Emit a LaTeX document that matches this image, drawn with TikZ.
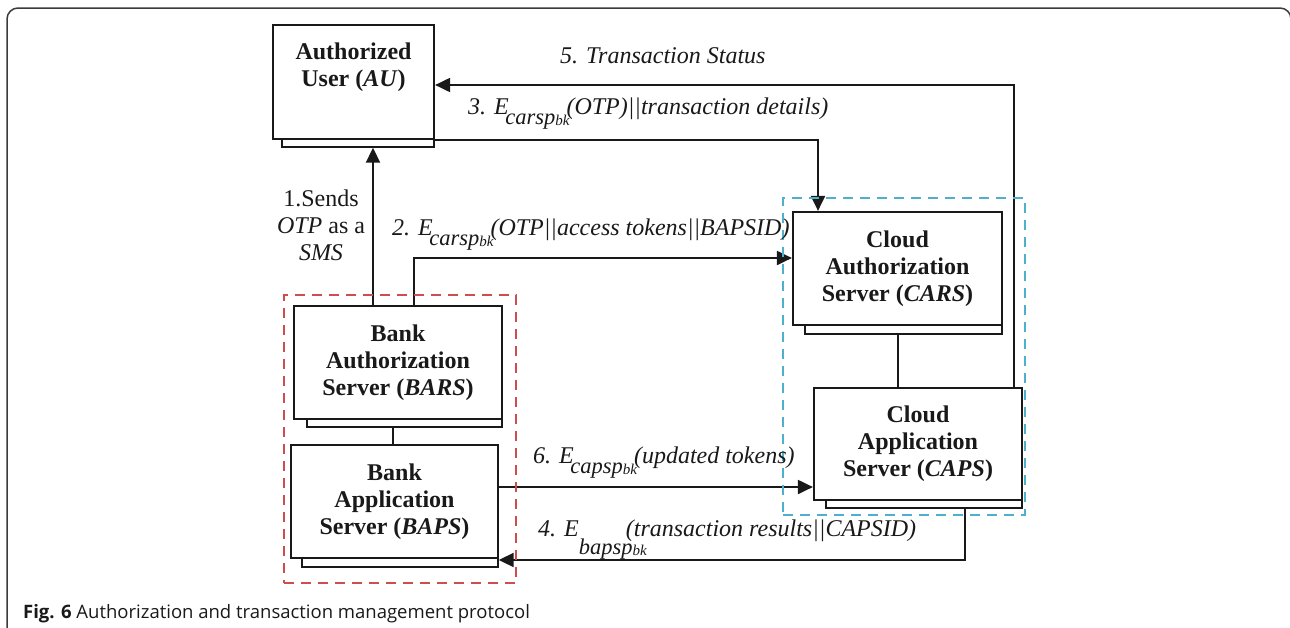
\documentclass[tikz,border=0pt]{standalone}
\usepackage{fontspec}
\setmainfont{Liberation Serif}
\newfontfamily\capfont{Open Sans}
\usetikzlibrary{arrows.meta,calc}
\definecolor{rdash}{RGB}{204,78,78}
\definecolor{cdash}{RGB}{78,176,204}
\definecolor{ink}{RGB}{25,25,25}
\newcommand\bksub{\fontsize{15}{15}\selectfont bk}
\newcommand\subsz{\fontsize{22.5}{24}\selectfont}
\newcommand\Esub[1]{E\kern-3.5pt\raisebox{-10pt}{\subsz #1\raisebox{-1pt}{\bksub}}\kern-3pt}
\newcommand\Esubdeep[1]{E\rlap{\raisebox{-18pt}{\subsz #1\raisebox{-1pt}{\bksub}}}\hspace{47pt}}
\begin{document}
\begin{tikzpicture}[x=1pt,y=-1pt,
  font=\fontsize{24}{27}\selectfont,
  box/.style={draw=ink, fill=white, line width=2.2pt, inner sep=0pt, align=center, text=ink, font=\fontsize{24}{27}\selectfont\bfseries},
  shbox/.style={draw=ink, fill=white, line width=1.4pt, inner sep=0pt},
  conn/.style={draw=ink, line width=2pt},
  arr/.style={conn, -{Triangle[length=15pt,width=14pt]}},
  lab/.style={anchor=base west, inner sep=0pt, text=ink, font=\fontsize{24}{27}\selectfont\itshape},
  grp/.style={line width=2.6pt, dash pattern=on 10pt off 7pt, inner sep=0pt},
]
\useasboundingbox (0,0) rectangle (1290,627);
% outer frame
\draw[ink!85, line width=1.5pt, rounded corners=11pt] (7,650) -- (7,8) -- (1291,8) -- (1291,650);

% shadows
\node[shbox, minimum width=152, minimum height=114] (AUsh) at (358,90) {};
\node[shbox, minimum width=195, minimum height=113] (BARSsh) at (404.5,370.5) {};
\node[shbox, minimum width=196, minimum height=113] (BAPSsh) at (400,510.5) {};
\node[shbox, minimum width=197, minimum height=113] (CARSsh) at (903.5,277.5) {};
\node[shbox, minimum width=196, minimum height=112] (CAPSsh) at (924,452) {};

% boxes
\node[box, minimum width=161, minimum height=114] (AU) at (353.5,82) {};
\node[inner sep=0pt, align=center, text=ink, font=\fontsize{24}{27}\selectfont\bfseries] (AUt) at (353.5,67) {Authorized\\User (\textit{AU})};
\node[box, minimum width=208, minimum height=113] (BARS) at (398,362.5) {Bank\\Authorization\\Server (\textit{BARS})};
\node[box, minimum width=207, minimum height=113] (BAPS) at (394.5,501.5) {Bank\\Application\\Server (\textit{BAPS})};
\node[box, minimum width=209, minimum height=113] (CARS) at (897.5,268.5) {Cloud\\Authorization\\Server (\textit{CARS})};
\node[box, minimum width=208, minimum height=112] (CAPS) at (918,444) {Cloud\\Application\\Server (\textit{CAPS})};

% plain links
\draw[conn] ([xshift=-1.5pt]BAPS.north) -- ([xshift=-1.5pt]BAPS.north |- BARSsh.south);
\draw[conn] (CARS.south |- CARSsh.south) -- (CARS.south |- CAPS.north);

% arrows
\draw[arr] ([xshift=-25pt]BARS.north) -- ([xshift=-25pt]BARS.north |- AUsh.south);
\draw[arr] ([xshift=16pt]BARS.north) |- ([yshift=10.5pt]CARS.west);
\draw[arr] (AU.south east) -| ([xshift=-79.5pt]CARS.north);
\draw[arr] ([xshift=96pt]CAPS.north) |- ([yshift=-3pt]AU.east);
\draw[arr] ([yshift=14.5pt]BAPS.east) -- ([yshift=14.5pt]BAPS.east -| CAPS.west);
\draw[arr] ([xshift=41pt]CAPSsh.south) |- ([yshift=-49.5pt]BAPSsh.east);

% groups
\node[grp, draw=rdash, minimum width=232, minimum height=288] (bank) at (400,439) {};
\node[grp, draw=cdash, minimum width=242, minimum height=317] (cloud) at (904,356.5) {};

% labels
\node[lab] (L5) at (560,63) {5. Transaction Status};
\node[lab] (L3) at (468,114) {3. \Esub{carsp}(OTP)||transaction details)};
\node[lab] (L2) at (392,235) {2. \Esub{carsp}(OTP||access tokens||BAPSID)};
\node[lab] (L6) at (533,463) {6. \Esub{capsp}(updated tokens)};
\node[lab] (L4) at (538,536) {4. \Esubdeep{bapsp}(transaction results||CAPSID)};
\node[inner sep=0pt, align=center, text=ink] (L1) at (321,225) {1.Sends\\\textit{OTP} as a\\\textit{SMS}};

% caption
\node[anchor=base west, inner sep=0pt, text=ink, font=\capfont\fontsize{18.5}{20}\selectfont] (cap) at (23,618) {\textbf{Fig. 6} Authorization and transaction management protocol};
\end{tikzpicture}
\end{document}
